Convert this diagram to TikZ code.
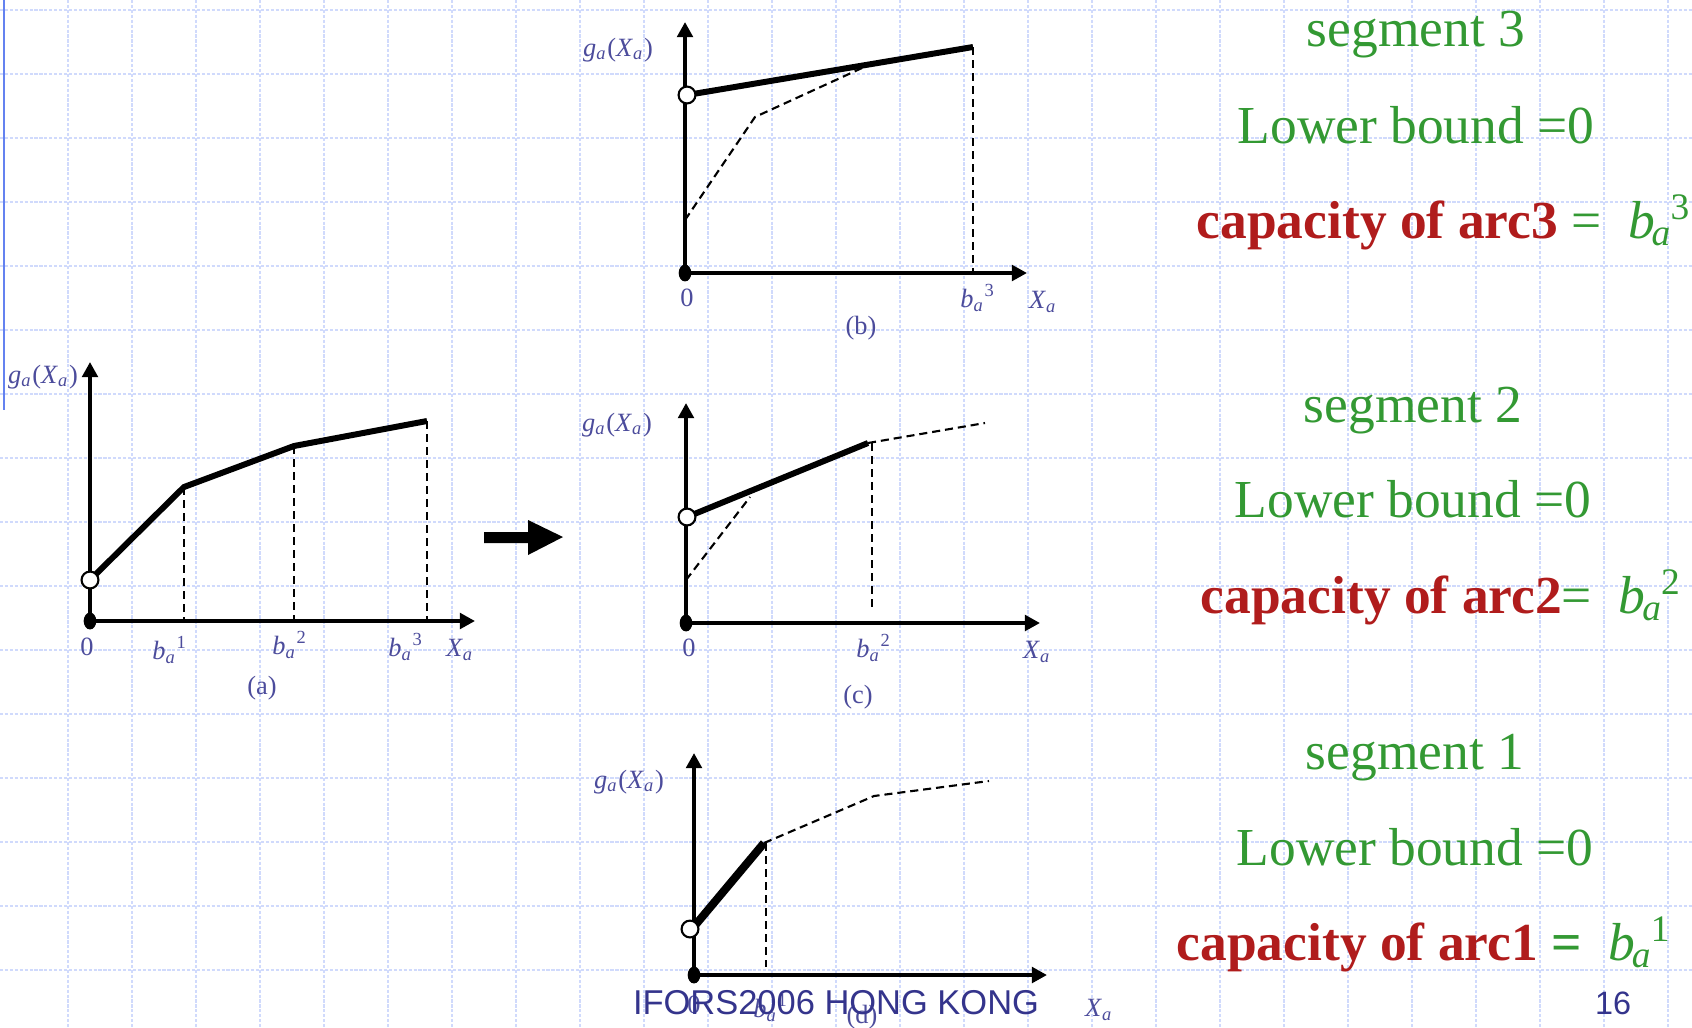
\documentclass[tikz,border=0pt]{standalone}
\usepackage{fontspec}
\setmainfont{Liberation Serif}
\newfontfamily\footfont{Liberation Sans}
\usetikzlibrary{arrows.meta, shapes.geometric}

\definecolor{gridblue}{RGB}{208,218,252}
\definecolor{leftblue}{RGB}{100,130,240}
\definecolor{labelblue}{RGB}{76,76,156}
\definecolor{footblue}{RGB}{52,52,140}
\definecolor{segreen}{RGB}{51,153,51}
\definecolor{capred}{RGB}{176,28,28}

\newcommand{\gxa}{\textit{g}\textsubscript{\textit{a}}(\textit{X}\textsubscript{\textit{a}})}
\newcommand{\xa}{\textit{X}\textsubscript{\textit{a}}}
\newcommand{\ba}[1]{\textit{b}\textsubscript{\textit{a}}\textsuperscript{#1}}
\newcommand{\bigba}[1]{\textit{b}\kern-0.06em\textsubscript{\textit{a}}\kern-0.03em\textsuperscript{#1}}

\begin{document}
\begin{tikzpicture}[x=0.01cm, y=-0.01cm,
    gridline/.style={draw=gridblue, line width=0.4pt, dash pattern=on 0.9pt off 0.5pt},
    axis/.style={line width=1.15pt, -{Triangle[length=4.3pt, width=4.4pt]}},
    seg/.style={line width=#1},
    seg/.default=1.7pt,
    guide/.style={line width=0.6pt, dash pattern=on 2.3pt off 1.4pt},
    hollow/.style={circle, draw, fill=white, line width=0.6pt,
                   minimum size=4.8pt, inner sep=0pt},
    dot/.style={ellipse, fill=black, minimum width=3.6pt,
                minimum height=4.8pt, inner sep=0pt},
    lbl/.style={text=labelblue, font=\fontsize{7.5}{9}\selectfont, inner sep=0pt},
    big/.style={text=segreen, font=\fontsize{15.2}{18}\selectfont,
                inner sep=0pt, anchor=base},
    arrowhead/.style={fill=black},
]
\useasboundingbox (0,0) rectangle (1692,1027);
\fill[white] (0,0) rectangle (1692,1027);

% background grid
\foreach \gx in {68,132,...,1668}
    \draw[gridline] (\gx,0) -- (\gx,1027);
\foreach \gy in {10,74,...,970}
    \draw[gridline] (0,\gy) -- (1692,\gy);
\draw[leftblue, line width=0.6pt] (4,0) -- (4,410);

% Panel (a): the whole cost function
\coordinate (oa) at (90,621);
\coordinate (a1) at (184,487);
\coordinate (a2) at (294,446);
\coordinate (a3) at (427,421);
\draw[axis] (oa) -- (90,362);
\draw[axis] (oa) -- (475,621);
\draw[seg] (90,580) -- (a1) -- (a2) -- (a3);
\foreach \p in {a1,a2,a3}
    \draw[guide] (\p) -- (\p |- oa);
\node[hollow] (ca) at (90,580) {};
\node[dot] (da) at (oa) {};
\node[lbl] (gxa) at (43,377) {\gxa};
\node[lbl] (za) at (87,647) {0};
\node[lbl] (ba1) at (170,650) {\ba{1}};
\node[lbl] (ba2) at (290,645) {\ba{2}};
\node[lbl] (ba3) at (406,647) {\ba{3}};
\node[lbl] (xa) at (460,650) {\xa};
\node[lbl] (capa) at (262,688) {(a)};

% big arrow
\fill[arrowhead] (484,532) -- (528,532) -- (528,520) -- (563,537)
    -- (528,555) -- (528,543) -- (484,543) -- cycle;

% Panel (b): segment 3
\coordinate (ob) at (685,273);
\coordinate (b3) at (973,47);
\draw[axis] (ob) -- (685,22);
\draw[axis] (ob) -- (1027,273);
\draw[guide] (685,220) -- (755,117) -- (862,68);
\draw[seg] (687,95) -- (b3);
\draw[guide] (b3) -- (b3 |- ob);
\node[hollow] (cb) at (687,95) {};
\node[dot] (db) at (ob) {};
\node[lbl] (gxb) at (618,50) {\gxa};
\node[lbl] (zb) at (687,298) {0};
\node[lbl] (bb3) at (978,298) {\ba{3}};
\node[lbl] (xb) at (1043,302) {\xa};
\node[lbl] (capb) at (861,328) {(b)};

% Panel (c): segment 2
\coordinate (oc) at (686,623);
\coordinate (c2) at (868,443);
\draw[axis] (oc) -- (686,403);
\draw[axis] (oc) -- (1040,623);
\draw[guide] (686,580) -- (750,497);
\draw[guide] (c2) -- (985,423);
\draw[seg] (687,517) -- (c2);
\draw[guide] (872,443) -- (872,610);
\node[hollow] (cc) at (687,517) {};
\node[dot] (dc) at (oc) {};
\node[lbl] (gxc) at (617,425) {\gxa};
\node[lbl] (zc) at (689,648) {0};
\node[lbl] (bc2) at (874,648) {\ba{2}};
\node[lbl] (xc) at (1037,652) {\xa};
\node[lbl] (capc) at (858,697) {(c)};

% Panel (d): segment 1
\coordinate (od) at (694,975);
\coordinate (d1) at (764,843);
\draw[axis] (od) -- (694,753);
\draw[axis] (od) -- (1047,975);
\draw[guide] (d1) -- (874,796) -- (989,781);
\draw[seg=2.3pt] (692,929) -- (d1);
\draw[guide] (766,843) -- (766,967);
\node[hollow] (cd) at (690,929) {};
\node[dot] (dd) at (od) {};
\node[lbl] (gxd) at (629,782) {\gxa};
\node[lbl] (zd) at (694,1005) {0};
\node[lbl] (bd1) at (771,1008) {\ba{1}};
\node[lbl] (xd) at (1099,1010) {\xa};
\node[lbl] (capd) at (862,1017) {(d)};

% right-hand notes
\node[big] (seg3) at (1416,47) {segment 3};
\node[big] (lb3) at (1416,143) {Lower bound =0};
\node[big, anchor=base west] (cap3) at (1196,238)
    {\textcolor{capred}{\bfseries capacity of arc3} = \ \bigba{3}};
\node[big] (seg2) at (1413,422) {segment 2};
\node[big] (lb2) at (1413,517) {Lower bound =0};
\node[big, anchor=base west] (cap2) at (1200,613)
    {\textcolor{capred}{\bfseries capacity of arc2}= \ \bigba{2}};
\node[big] (seg1) at (1415,769) {segment 1};
\node[big] (lb1) at (1415,865) {Lower bound =0};
\node[big, anchor=base west] (cap1) at (1176,960)
    {\textcolor{capred}{\bfseries capacity of arc1} {\bfseries =} \ \bigba{1}};

% footer
\node[text=footblue, font=\footfont\fontsize{9.8}{11}\selectfont, inner sep=0pt]
    (footer) at (836,1003) {IFORS2006 HONG KONG};
\node[text=footblue, font=\footfont\fontsize{9.2}{11}\selectfont, inner sep=0pt]
    (pageno) at (1613,1003) {16};
\end{tikzpicture}
\end{document}
